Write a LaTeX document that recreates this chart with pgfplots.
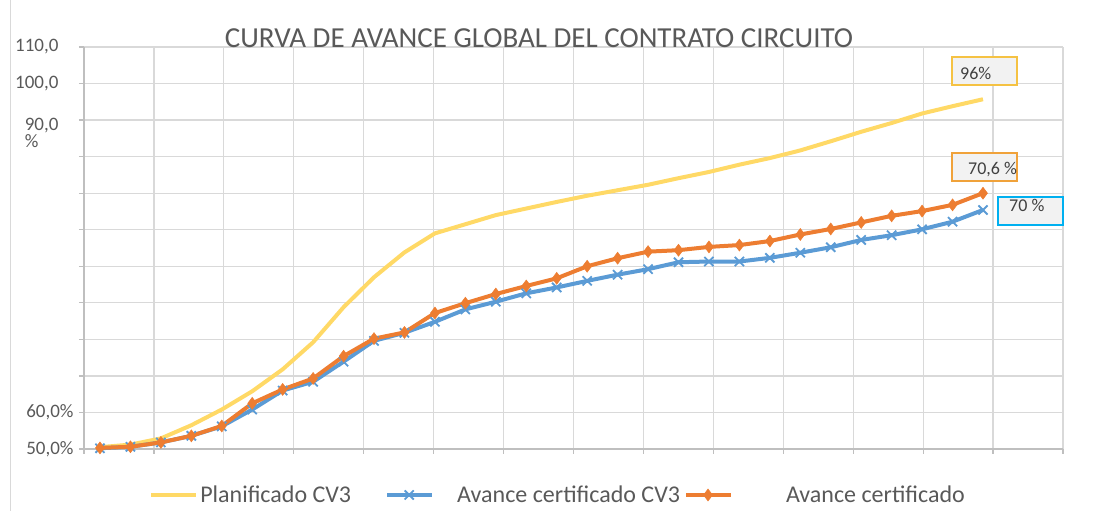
\documentclass[border=0pt]{standalone}
\usepackage{pgfplots}
\pgfplotsset{compat=1.18}
\usepackage{fontspec}
\setmainfont{Carlito}
\definecolor{cyel}{HTML}{FFD966}
\definecolor{cblue}{HTML}{5B9BD5}
\definecolor{corange}{HTML}{ED7D31}
\definecolor{cgrid}{HTML}{D9D9D9}
\definecolor{caxis}{HTML}{BFBFBF}
\definecolor{ctext}{HTML}{595959}
\definecolor{clabel}{HTML}{404040}
\definecolor{cboxfill}{HTML}{F2F2F2}
\definecolor{cboxyel}{HTML}{F5C243}
\definecolor{cboxor}{HTML}{F0A23A}
\definecolor{cboxbl}{HTML}{00B0F0}

\pgfplotstableread{
i plan
0 0.5
1 1.2
2 2.9
3 6.5
4 10.8
5 15.8
6 21.8
7 29.2
8 38.8
9 47.0
10 53.8
11 59.0
12 61.5
13 64.0
14 65.8
15 67.6
16 69.3
17 70.8
18 72.3
19 74.1
20 75.8
21 77.8
22 79.6
23 81.7
24 84.2
25 86.8
26 89.2
27 91.8
28 93.8
29 95.7
}\tplan

\pgfplotstableread{
i cv3
0 0.2
1 0.6
2 1.8
3 3.6
4 6.2
5 10.8
6 16.0
7 18.4
8 23.9
9 29.6
10 31.8
11 34.8
12 38.2
13 40.3
14 42.6
15 44.2
16 46.0
17 47.7
18 49.2
19 51.1
20 51.3
21 51.3
22 52.3
23 53.7
24 55.2
25 57.2
26 58.5
27 60.1
28 62.2
29 65.4
}\tcv

\pgfplotstableread{
i cert
0 0.3
1 0.6
2 1.8
3 3.6
4 6.3
5 12.5
6 16.3
7 19.3
8 25.4
9 30.2
10 31.9
11 37.2
12 39.9
13 42.4
14 44.6
15 46.7
16 50.0
17 52.2
18 54.0
19 54.4
20 55.3
21 55.8
22 56.9
23 58.7
24 60.2
25 62.0
26 63.8
27 65.1
28 66.8
29 70.0
}\tcert

\begin{document}
\begin{tikzpicture}
\useasboundingbox (0,0) rectangle (1100pt,511pt);
\draw[cgrid, line width=1pt] (10pt,0pt) -- (10pt,511pt);
\begin{axis}[
  at={(84pt,62pt)}, anchor=south west,
  scale only axis, width=979pt, height=402pt,
  xmin=-0.525, xmax=31.628, ymin=0, ymax=110,
  xtick={-0.525,1.772,4.068,6.365,8.662,10.958,13.255,15.551,17.848,20.145,22.441,24.738,27.034,29.331,31.628},
  xticklabels={},
  ytick={0,10,...,110},
  yticklabels={{50,0\%},{60,0\%},{},{},{},{},{},{},{},{\raisebox{-5pt}[\height][\depth]{\makebox[0pt][l]{\raisebox{-17pt}[0pt][0pt]{\%}}90,0}\kern15pt},{100,0\kern15pt},{110,0\kern15pt}},
  yticklabel style={font=\fontsize{19}{20}\selectfont, text=ctext, xshift=-2pt},
  axis x line*=bottom, axis y line*=left,
  x axis line style={-, draw=caxis, line width=1.2pt},
  y axis line style={-, draw=caxis, line width=1.2pt},
  grid=major,
  major grid style={draw=cgrid, line width=1.2pt},
  tick align=outside, major tick length=5pt,
  tick style={draw=caxis, line width=1.2pt},
  clip=false,
  legend columns=3,
  legend style={at={(0.0665,-0.1144)}, anchor=west, draw=none, fill=none,
    inner xsep=0pt, inner ysep=0pt,
    font=\fontsize{24}{25}\selectfont, text=ctext,
    /tikz/every odd column/.append style={column sep=0pt},
    /tikz/every even column/.append style={column sep=2pt}},
  legend image code/.code={\draw[mark repeat=2, mark phase=2, #1] plot coordinates {(0pt,0pt) (22pt,0pt) (45pt,0pt)};},
]
\addplot[cyel, line width=4pt, no markers] table[x=i, y=plan] {\tplan};
\addlegendentry{Planificado CV3\kern30pt}
\addplot[cblue, line width=4pt, mark=x, mark size=6.5pt, mark options={line width=1.8pt}] table[x=i, y=cv3] {\tcv};
\addlegendentry{\kern21pt Avance certificado CV3}
\addplot[corange, line width=4pt, mark=diamond*, mark size=6pt, mark options={line width=0.5pt}] table[x=i, y=cert] {\tcert};
\addlegendentry{\kern51pt Avance certificado}
\end{axis}
\node[text=ctext, font=\fontsize{29}{30}\selectfont] at (539pt,473pt) {CURVA DE AVANCE GLOBAL DEL CONTRATO CIRCUITO};
% data label boxes
\draw[cboxyel, fill=cboxfill, line width=1.8pt] (952pt,426pt) rectangle (1017pt,454pt);
\node[anchor=west, text=clabel, font=\fontsize{18}{19}\selectfont, inner sep=0pt] at (960pt,438pt) {96\%};
\draw[cboxor, fill=cboxfill, line width=1.8pt] (952pt,330pt) rectangle (1017pt,358pt);
\node[anchor=west, text=clabel, font=\fontsize{18}{19}\selectfont, inner sep=0pt] at (968pt,341pt) {70,6 \%};
\draw[cboxbl, fill=cboxfill, line width=1.8pt] (998pt,286pt) rectangle (1063pt,314pt);
\node[anchor=west, text=clabel, font=\fontsize{18}{19}\selectfont, inner sep=0pt] at (1009pt,306pt) {70 \%};
\end{tikzpicture}
\end{document}
